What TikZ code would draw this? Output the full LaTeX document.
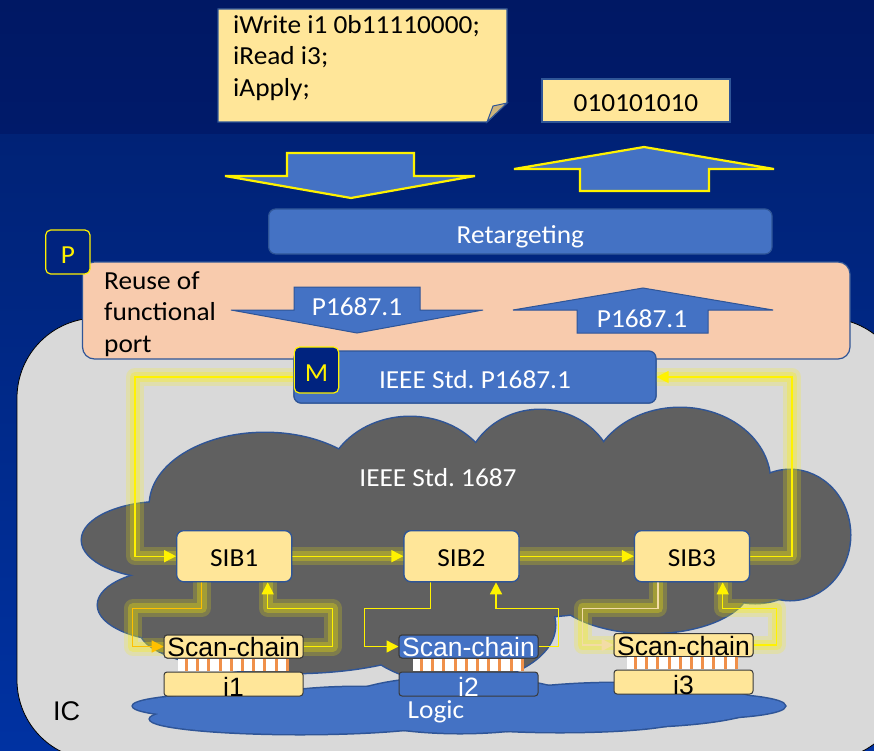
\documentclass[tikz,border=0pt]{standalone}
\usepackage{fontspec}
\setmainfont{Carlito}[FakeStretch=1.05]
\newfontfamily\arialf{Liberation Sans}
\usetikzlibrary{arrows.meta}
\frenchspacing
\definecolor{bgtop}{HTML}{001864}
\definecolor{bgtopb}{HTML}{001A6A}
\definecolor{bgmid}{HTML}{002276}
\definecolor{bgbot}{HTML}{0032A2}
\definecolor{yfill}{HTML}{FFE699}
\definecolor{bord}{HTML}{2F5597}
\definecolor{accent}{HTML}{4472C4}
\definecolor{peach}{HTML}{F8CBAD}
\definecolor{icgray}{HTML}{D9D9D9}
\definecolor{cloudgray}{HTML}{606060}
\definecolor{badgec}{HTML}{00237F}
\definecolor{gold}{HTML}{FFC000}
\definecolor{paletan}{HTML}{F3DCA5}
\definecolor{stripec}{HTML}{F0904A}
\definecolor{foldc}{HTML}{CDB47C}
\definecolor{scbord}{HTML}{3A3A3A}
\newcommand\cfs{\fontsize{26}{32}\selectfont}
\newcommand\afs{\arialf\fontsize{26.5}{30}\selectfont}
\begin{document}
\begin{tikzpicture}[x=1pt,y=-1pt,
  tip/.style={-{Triangle[length=12pt,width=12pt]}},
  yl/.style={draw=yellow, line width=1.4pt, tip},
  glow/.style={draw=yellow, line width=18pt, opacity=.2, line cap=round, line join=round},
  glowin/.style={draw=yellow, line width=10pt, opacity=.28, line cap=round, line join=round},
  rbox/.style={draw=bord, line width=1.2pt, rounded corners=7pt, inner sep=0pt},
  sib/.style={rbox, fill=yfill, minimum width=115pt, minimum height=51pt, font=\cfs, text height=21pt, text depth=0pt},
  scan/.style={draw=scbord, line width=1pt, rounded corners=3pt, inner sep=0pt, minimum width=139pt, font=\afs},
  scantop/.style={scan, minimum height=23pt, text height=20pt, text depth=0pt},
  scanbot/.style={scan, minimum height=24pt, text height=24pt, text depth=0pt},
  lbl/.style={inner sep=0pt, font=\cfs},
  bigarrow/.style={fill=accent, draw=yellow, line width=2.2pt, line join=miter},
  smallarrow/.style={fill=accent, draw=bord, line width=1pt, line join=miter},
  badge/.style={draw=yellow, line width=1.2pt, fill=badgec, rounded corners=5pt, text=yellow, font=\cfs, inner sep=0pt, minimum width=44.3pt}
]
\useasboundingbox (0,0) rectangle (874,751);
\clip (0,0) rectangle (874,751);
% background
\shade[top color=bgtop, bottom color=bgtopb] (0,0) rectangle (874,135);
\shade[top color=bgmid, bottom color=bgbot] (0,135) rectangle (874,751);

% IC region
\draw[fill=icgray, draw=black, line width=0.8pt, rounded corners=80pt] (17,318) rectangle (906,760);
\node[inner sep=0pt, anchor=base west, font=\arialf\fontsize{27}{30}\selectfont] (ic) at (53,720) {IC};

% dark cloud (IEEE Std. 1687)
\foreach \cx/\cy/\rx/\ry in {265/505/115/72, 410/490/85/73, 540/480/75/70, 680/482/90/74, 790/535/60/65, 755/575/45/28, 165/540/83/38, 180/605/82/36, 290/630/150/43, 455/625/100/58, 650/585/100/48, 460/540/300/80}
  \draw[bord, line width=3pt] (\cx,\cy) ellipse [x radius=\rx pt, y radius=\ry pt];
\foreach \cx/\cy/\rx/\ry in {265/505/115/72, 410/490/85/73, 540/480/75/70, 680/482/90/74, 790/535/60/65, 755/575/45/28, 165/540/83/38, 180/605/82/36, 290/630/150/43, 455/625/100/58, 650/585/100/48, 460/540/300/80}
  \fill[cloudgray] (\cx,\cy) ellipse [x radius=\rx pt, y radius=\ry pt];
\node[lbl, text=white, anchor=base] (std) at (438,486.7) {IEEE Std. 1687};

% Logic cloud
\foreach \cx/\cy/\rx/\ry in {260/706/127/13, 300/719/150/15, 360/705/110/18, 460/705/120/28, 620/705/140/22, 700/706/85/12, 560/720/120/12}
  \draw[bord, line width=3pt] (\cx,\cy) ellipse [x radius=\rx pt, y radius=\ry pt];
\foreach \cx/\cy/\rx/\ry in {260/706/127/13, 300/719/150/15, 360/705/110/18, 460/705/120/28, 620/705/140/22, 700/706/85/12, 560/720/120/12}
  \fill[accent] (\cx,\cy) ellipse [x radius=\rx pt, y radius=\ry pt];
\node[lbl, text=white, anchor=base] (logic) at (436,718.3) {Logic};

% boxes that connectors refer to (drawn later on top)
\path (475,377) node[rbox, minimum width=362pt, minimum height=52pt] (ieee) {};
\path (234.2,556.2) node[sib] (sib1) {};
\path (461.5,556.2) node[sib] (sib2) {};
\path (692,556.2) node[sib] (sib3) {};
\path (233.7,646.5) node[scantop] (sc1) {};
\path (468.5,646.5) node[scantop] (sc2) {};
\path (683.5,645) node[scantop] (sc3) {};

% glows (two soft layers)
\foreach \g in {glow,glowin}{
\draw[\g] (ieee.west) -| ([xshift=-41pt]sib1.west) -- (sib1.west);
\draw[\g] (sib1.east) -- (sib2.west);
\draw[\g] (sib2.east) -- (sib3.west);
\draw[\g] (sib3.east) -- ++(42,0) |- (ieee.east);
\draw[\g] ([xshift=-32.5pt]sib1.south) -- ++(0,26) -| ([xshift=-31pt]sc1.west) -- (sc1.west);
\draw[\g] (sc1.east) -- ++(29,0) |- ([xshift=33.5pt,yshift=-26pt]sib1.south) -- ([xshift=33.5pt]sib1.south);
\draw[\g] ([xshift=-34pt]sib3.south) -- ++(0,26) -| ([xshift=-31pt]sc3.west) -- (sc3.west);
\draw[\g] (sc3.east) -- ++(23,0) |- ([xshift=30.7pt,yshift=-26pt]sib3.south) -- ([xshift=30.7pt]sib3.south);
}

% connectors
\draw[yl] (ieee.west) -| ([xshift=-41pt]sib1.west) -- (sib1.west);
\draw[yl] (sib1.east) -- (sib2.west);
\draw[yl] (sib2.east) -- (sib3.west);
\draw[yl] (sib3.east) -- ++(42,0) |- (ieee.east);
\draw[draw=gold, line width=1.4pt, tip] ([xshift=-32.5pt]sib1.south) -- ++(0,26) -| ([xshift=-31pt]sc1.west) -- (sc1.west);
\draw[yl] (sc1.east) -- ++(29,0) |- ([xshift=33.5pt,yshift=-26pt]sib1.south) -- ([xshift=33.5pt]sib1.south);
\draw[yl] ([xshift=-31pt]sib2.south) -- ++(0,26) -| ([xshift=-34pt]sc2.west) -- (sc2.west);
\draw[yl] (sc2.east) -- ++(20,0) |- ([xshift=34.5pt,yshift=-26pt]sib2.south) -- ([xshift=34.5pt]sib2.south);
\draw[draw=paletan, line width=1.4pt, tip] ([xshift=-34pt]sib3.south) -- ++(0,26) -| ([xshift=-31pt]sc3.west) -- (sc3.west);
\draw[yl] (sc3.east) -- ++(23,0) |- ([xshift=30.7pt,yshift=-26pt]sib3.south) -- ([xshift=30.7pt]sib3.south);

% SIB boxes
\node[sib] at (sib1) {SIB1};
\node[sib] at (sib2) {SIB2};
\node[sib] at (sib3) {SIB3};

% scan chains and instruments
\node[scantop, fill=yfill] at (sc1) {Scan-chain};
\node[scantop, fill=accent, text=white] at (sc2) {Scan-chain};
\node[scantop, fill=yfill] at (sc3) {Scan-chain};
\foreach \bx/\by in {178/659, 413/659, 627/657}{
  \fill[white] (\bx,\by) rectangle ++(111,12);
  \foreach \k in {0,...,9}
    \fill[stripec] (\bx+7+\k*11.2,\by) rectangle ++(3,12);
}
\node[scanbot, fill=yfill] (i1) at (233.5,684) {i1};
\node[scanbot, fill=accent, text=white] (i2) at (468.5,684) {i2};
\node[scanbot, fill=yfill] (i3) at (683.5,682) {i3};

% note
\draw[draw=bord, line width=1.2pt, fill=yfill, line join=miter] (218,9) -- (507,9) -- (507,103) -- (487,122) -- (218,122) -- cycle;
\draw[draw=bord, line width=1pt, fill=foldc] (487,122) -- (493,106) -- (507,103) -- cycle;
\node[lbl, anchor=base west] (n1) at (233,33.3) {iWrite i1 0b11110000;};
\node[lbl, anchor=base west] (n2) at (233,65) {iRead i3;};
\node[lbl, anchor=base west] (n3) at (233,96.7) {iApply;};

% bits
\node[draw=bord, line width=1.2pt, fill=yfill, inner sep=0pt, minimum width=188pt, minimum height=43pt, font=\cfs, text height=22.4pt, text depth=0pt] (bits) at (636,100.5) {010101010};

% big arrows
\draw[bigarrow] (287,153) -- (414,153) -- (414,176) -- (475,176) -- (351,198) -- (225,176) -- (287,176) -- cycle;
\draw[bigarrow] (644,147) -- (774,169) -- (709,169) -- (709,191) -- (580,191) -- (580,169) -- (514,169) -- cycle;

% Retargeting
\node[rbox, fill=accent, minimum width=503.3pt, minimum height=45pt, text=white, font=\cfs, text height=23pt, text depth=0pt] (retarget) at (520.35,231.5) {Retargeting};

% functional port
\node[draw=bord, line width=1.2pt, fill=peach, rounded corners=12pt, minimum width=767.5pt, minimum height=97pt, inner sep=0pt] (port) at (466.25,310.5) {};
\node[lbl, anchor=base west] (r1) at (104,289) {Reuse of};
\node[lbl, anchor=base west] (r2) at (104,320.5) {functional};
\node[lbl, anchor=base west] (r3) at (104,352) {port};
\draw[smallarrow] (294,287) -- (420,287) -- (420,310) -- (483,310) -- (357,333) -- (231,310) -- (294,310) -- cycle;
\node[lbl, text=white, anchor=base] (pa) at (357,315) {P1687.1};
\draw[smallarrow] (643,288) -- (773,310) -- (708,310) -- (708,333) -- (577,333) -- (577,310) -- (513,310) -- cycle;
\node[lbl, text=white, anchor=base] (pb) at (642,327) {P1687.1};

% P badge
\node[badge, minimum height=44pt, text height=22pt, text depth=0pt] (pbadge) at (67.85,252) {P};

% IEEE Std. P1687.1
\node[rbox, fill=accent, minimum width=362pt, minimum height=52pt, text=white, font=\cfs, text height=22.6pt, text depth=0pt] at (ieee) {IEEE Std. P1687.1};
\node[badge, minimum height=46pt, text height=23.4pt, text depth=0pt] (mbadge) at (316.5,370) {M};
\end{tikzpicture}
\end{document}
